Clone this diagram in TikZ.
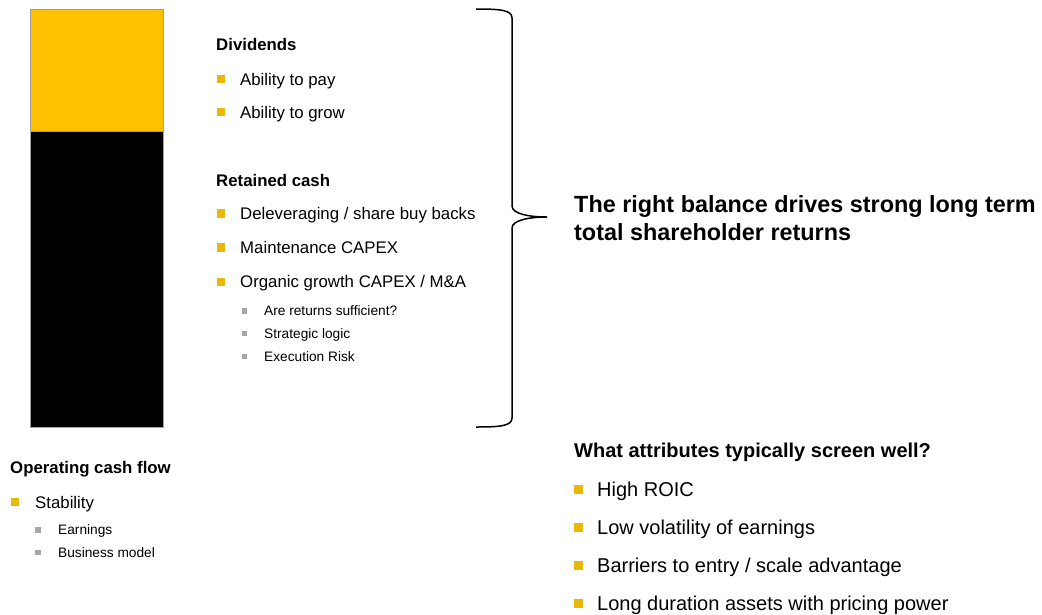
\documentclass[tikz,border=0pt]{standalone}
\usepackage{fontspec}
\setmainfont{Liberation Sans}
\definecolor{baryellow}{HTML}{FFC000}
\definecolor{bulyellow}{HTML}{E8B90A}
\definecolor{bulgray}{HTML}{A6A6A6}
\definecolor{bordergray}{HTML}{A0A0A0}
\tikzset{
  barbox/.style={draw=bordergray, line width=1.4pt, inner sep=0pt, anchor=north west, minimum width=133pt},
  ybul/.style={rectangle, fill=bulyellow, inner sep=0pt, minimum size=8.3pt},
  gbul/.style={rectangle, fill=bulgray, inner sep=0pt, minimum size=5.2pt},
  body/.style={anchor=base west, inner sep=0pt, font=\fontsize{16.8}{20}\selectfont},
  small/.style={anchor=base west, inner sep=0pt, font=\fontsize{13.7}{16}\selectfont},
  head/.style={anchor=base west, inner sep=0pt, font=\fontsize{16.8}{20}\selectfont\bfseries},
  bighead/.style={anchor=base west, inner sep=0pt, font=\fontsize{20}{24}\selectfont\bfseries},
  bigbody/.style={anchor=base west, inner sep=0pt, font=\fontsize{20}{24}\selectfont},
  balance/.style={anchor=base west, inner sep=0pt, font=\fontsize{23.4}{29}\selectfont\bfseries},
  bracestyle/.style={draw=black, line width=1.5pt}
}
\begin{document}
\begin{tikzpicture}[x=1pt,y=-1pt]
\path[use as bounding box, fill=white] (0,0) rectangle (1042,614);

% bar
\node[barbox, fill=black, minimum height=296pt] (retbar) at (30,131) {};
\node[barbox, fill=baryellow, minimum height=122pt] (divbar) at (30,9) {};

% Dividends
\node[head] (divh) at (216,50) {Dividends};
\node[ybul] (b1) at (221,79) {};
\node[body] (t1) at (240,85) {Ability to pay};
\node[ybul] (b2) at (221,112) {};
\node[body] (t2) at (240,118) {Ability to grow};

% Retained cash
\node[head] (reth) at (216,186) {Retained cash};
\node[ybul] (b3) at (221,213.5) {};
\node[body] (t3) at (240,219) {Deleveraging / share buy backs};
\node[ybul] (b4) at (221,247.5) {};
\node[body] (t4) at (240,253) {Maintenance CAPEX};
\node[ybul] (b5) at (221,282) {};
\node[body] (t5) at (240,287.5) {Organic growth CAPEX / M\&A};
\node[gbul] (s1) at (244.5,311) {};
\node[small] (u1) at (264,315.5) {Are returns sufficient?};
\node[gbul] (s2) at (244.5,333.5) {};
\node[small] (u2) at (264,338) {Strategic logic};
\node[gbul] (s3) at (244.5,356.5) {};
\node[small] (u3) at (264,361) {Execution Risk};

% Operating cash flow
\node[head] (oph) at (10,473) {Operating cash flow};
\node[ybul] (b6) at (15,502) {};
\node[body] (t6) at (35,508) {Stability};
\node[gbul] (s4) at (38,530) {};
\node[small] (u4) at (58,534.5) {Earnings};
\node[gbul] (s5) at (38,552.5) {};
\node[small] (u5) at (58,557) {Business model};

% brace
\coordinate (brtop) at (476,9);
\coordinate (brtip) at (547,217);
\coordinate (brbot) at (476,427);
\draw[bracestyle] (brtop) .. controls (500,9) and (512,10) .. (512,18)
  -- (512,206) .. controls (512,214) and (530,217) .. (brtip)
  .. controls (530,217) and (512,220) .. (512,228)
  -- (512,418) .. controls (512,426) and (500,427) .. (brbot);

% balance text
\node[balance] (bal1) at (574,212.5) {The right balance drives strong long term};
\node[balance] (bal2) at (574,240) {total shareholder returns};

% attributes
\node[bighead] (ath) at (574,457) {What attributes typically screen well?};
\node[ybul, minimum size=9pt] (b7) at (578.5,489) {};
\node[bigbody] (t7) at (597,496) {High ROIC};
\node[ybul, minimum size=9pt] (b8) at (578.5,527) {};
\node[bigbody] (t8) at (597,534) {Low volatility of earnings};
\node[ybul, minimum size=9pt] (b9) at (578.5,565) {};
\node[bigbody] (t9) at (597,572) {Barriers to entry / scale advantage};
\node[ybul, minimum size=9pt] (b10) at (578.5,603) {};
\node[bigbody] (t10) at (597,610) {Long duration assets with pricing power};
\end{tikzpicture}
\end{document}
